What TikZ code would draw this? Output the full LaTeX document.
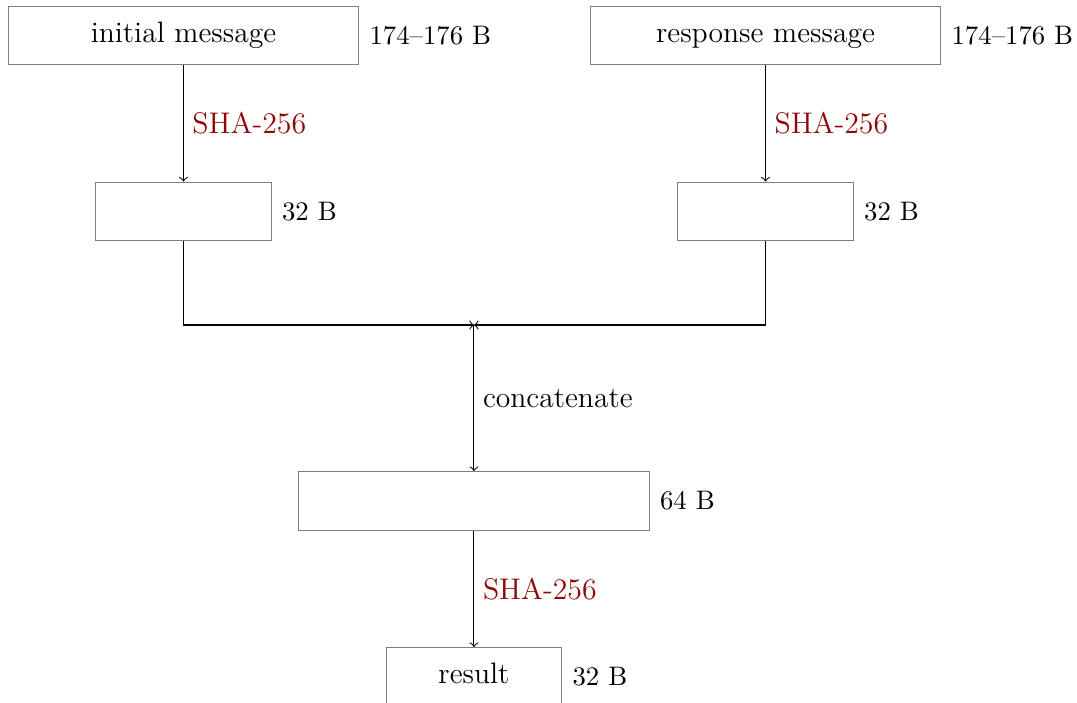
\documentclass[tikz,border=0pt]{standalone}
\usepackage{tikz}
\usetikzlibrary{positioning}
\definecolor{hashred}{HTML}{8E0606}

\tikzset{
  msgbox/.style={draw=gray, minimum width=4.83cm, minimum height=0.81cm,
    font=\fontsize{11.6}{14}\selectfont, text height=1.6ex, text depth=.4ex},
  digestbox/.style={msgbox, minimum width=2.42cm},
  sizelabel/.style={right=0.5pt of #1, font=\fontsize{10.5}{12}\selectfont},
  hashlabel/.style={right, text=hashred, font=\fontsize{11.7}{14}\selectfont},
}

\begin{document}
\begin{tikzpicture}[>=to]
  \useasboundingbox (0,0) rectangle (14.84,-9.673);

  % Messages
  \node[msgbox] (init) at (2.528,-0.489) {initial message};
  \node[msgbox] (resp) at (10.548,-0.489) {response message};
  \node[sizelabel=init] (initsize) {174--176 B};
  \node[sizelabel=resp] (respsize) {174--176 B};

  % Digests
  \node[digestbox, below=1.6cm of init] (hashA) {};
  \node[digestbox, below=1.6cm of resp] (hashB) {};
  \node[sizelabel=hashA] (hashAsize) {32 B};
  \node[sizelabel=hashB] (hashBsize) {32 B};

  % Concatenation
  \coordinate (join) at (6.531,-4.478);
  \node[msgbox] (concat) at (6.531,-6.903) {};
  \node[sizelabel=concat] (concatsize) {64 B};

  % Result
  \node[digestbox, below=1.6cm of concat] (result) {result};
  \node[sizelabel=result] (resultsize) {32 B};

  % Connectors
  \draw[->] (init) -- node[hashlabel] {SHA-256} (hashA);
  \draw[->] (resp) -- node[hashlabel] {SHA-256} (hashB);
  \draw[->] (hashA.south) |- (join);
  \draw[->] (hashB.south) |- (join);
  \draw[->] (join) -- node[right, font=\fontsize{11.6}{14}\selectfont] {concatenate} (concat);
  \draw[->] (concat) -- node[hashlabel] {SHA-256} (result);
\end{tikzpicture}
\end{document}
